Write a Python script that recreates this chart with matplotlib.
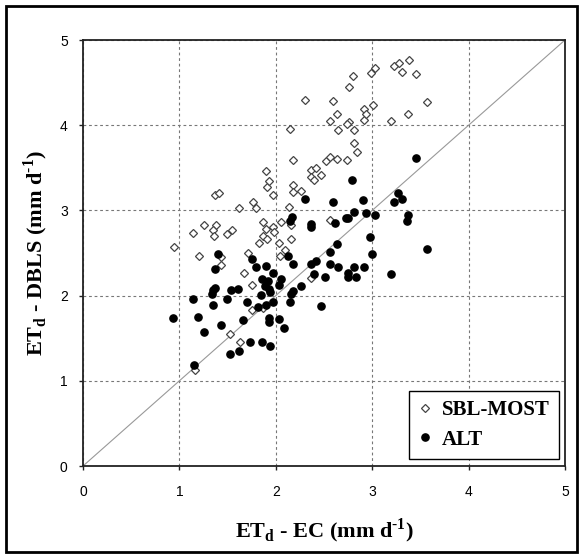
import matplotlib
matplotlib.use('Agg')
import matplotlib.pyplot as plt
from matplotlib.patches import Rectangle
import numpy as np

plt.rcParams['font.family'] = 'Liberation Sans'
plt.rcParams['mathtext.fontset'] = 'custom'
plt.rcParams['mathtext.rm'] = 'Liberation Serif:bold'
plt.rcParams['mathtext.bf'] = 'Liberation Serif:bold'

# SBL-MOST (open diamonds)
sbl_x = [0.94, 1.20, 1.14, 1.25, 1.37, 1.41, 1.38, 1.35, 1.36, 1.49, 1.55, 1.43, 1.43,
         1.62, 1.76, 1.79, 1.71, 1.67, 1.75, 1.75, 1.87, 1.53, 1.63, 1.16, 1.83, 1.87,
         1.87, 1.90, 1.91, 1.97, 1.98, 1.90, 1.91, 1.93, 1.97, 2.05, 2.03, 2.04, 2.10,
         2.14, 2.16, 2.16, 2.18, 2.18, 2.18, 2.15, 2.26, 2.30, 2.37, 2.36, 2.40, 2.42,
         2.47, 2.52, 2.56, 2.64, 2.56, 2.59, 2.63, 2.65, 2.74, 2.76, 2.74, 2.76, 2.80,
         2.81, 2.81, 2.84, 2.56, 2.36, 2.91, 2.92, 2.94, 2.99, 3.03, 3.01, 3.20, 3.23,
         3.28, 3.31, 3.38, 3.45, 3.37, 3.57]
sbl_y = [2.57, 2.46, 2.73, 2.83, 3.18, 3.21, 2.83, 2.77, 2.70, 2.72, 2.77, 2.45, 2.36,
         3.03, 3.10, 3.03, 2.50, 2.26, 2.13, 1.83, 1.86, 1.55, 1.45, 1.13, 2.62, 2.86,
         2.70, 2.78, 2.67, 2.81, 2.75, 3.46, 3.27, 3.34, 3.18, 2.86, 2.62, 2.46, 2.53,
         3.04, 2.83, 2.66, 3.30, 3.22, 3.59, 3.96, 3.23, 4.29, 3.48, 3.39, 3.36, 3.50,
         3.42, 3.58, 3.63, 3.60, 4.05, 4.28, 4.13, 3.94, 3.59, 4.04, 4.01, 4.45, 4.58,
         3.94, 3.79, 3.69, 2.89, 2.21, 4.06, 4.19, 4.13, 4.61, 4.67, 4.24, 4.05, 4.69,
         4.73, 4.62, 4.76, 4.60, 4.13, 4.27]

# ALT (filled circles)
alt_x = [0.93, 1.14, 1.19, 1.25, 1.15, 1.37, 1.40, 1.37, 1.35, 1.34, 1.35, 1.43, 1.49,
         1.54, 1.61, 1.53, 1.62, 1.66, 1.70, 1.73, 1.75, 1.79, 1.82, 1.86, 1.85, 1.86,
         1.90, 1.89, 1.90, 1.92, 1.93, 1.93, 1.93, 1.94, 1.97, 1.97, 1.94, 2.03, 2.05,
         2.03, 2.08, 2.13, 2.15, 2.17, 2.18, 2.16, 2.15, 2.18, 2.26, 2.30, 2.36, 2.36,
         2.37, 2.40, 2.42, 2.47, 2.51, 2.56, 2.56, 2.59, 2.61, 2.63, 2.65, 2.73, 2.75,
         2.75, 2.75, 2.79, 2.81, 2.81, 2.83, 2.90, 2.91, 2.94, 2.98, 3.00, 3.03, 3.19,
         3.23, 3.27, 3.31, 3.37, 3.36, 3.45, 3.57]
alt_y = [1.74, 1.96, 1.75, 1.57, 1.19, 2.31, 2.49, 2.09, 2.06, 2.02, 1.89, 1.65, 1.96,
         2.07, 2.08, 1.32, 1.35, 1.71, 1.93, 1.45, 2.43, 2.34, 1.87, 2.20, 2.01, 1.46,
         2.35, 2.11, 1.89, 2.17, 2.08, 1.69, 1.74, 1.41, 2.27, 1.92, 2.04, 2.13, 2.19,
         1.72, 1.62, 2.47, 2.88, 2.92, 2.37, 2.02, 1.92, 2.05, 2.11, 3.13, 2.84, 2.81,
         2.37, 2.25, 2.41, 1.88, 2.22, 2.51, 2.37, 3.10, 2.85, 2.61, 2.33, 2.91, 2.91,
         2.26, 2.22, 3.36, 2.98, 2.33, 2.22, 3.12, 2.33, 2.97, 2.69, 2.49, 2.95, 2.25,
         3.10, 3.20, 3.13, 2.95, 2.88, 3.61, 2.55]

ticks = [0, 1, 2, 3, 4, 5]

fig = plt.figure(figsize=(5.83, 5.58), dpi=100)
ax = fig.add_axes([83/583, 92/558, 482/583, 426/558])

ax.plot([0, 5], [0, 5], color='#999999', lw=0.8, zorder=1)
ax.plot(sbl_x, sbl_y, 'D', ms=4.0, mfc='white', mec='#444444', mew=0.9,
        label='SBL-MOST', zorder=3)
ax.plot(alt_x, alt_y, 'o', ms=5.2, mfc='black', mec='black', label='ALT', zorder=4)

ax.set_xlim(0, 5)
ax.set_ylim(0, 5)
ax.set_xticks(ticks)
ax.set_yticks(ticks)
ax.grid(True, color='#777777', lw=0.8, ls=(0, (2.5, 2.5)))
ax.set_axisbelow(True)
for s in ax.spines.values():
    s.set_color('#222222')
    s.set_linewidth(1.3)
ax.tick_params(direction='out', length=3, width=1, labelsize=10, color='#222222')
ax.tick_params(axis='x', pad=11)
ax.tick_params(axis='y', pad=8)

ax.set_xlabel('ET$_{\\mathrm{d}}$ - EC (mm d$^{\\mathrm{\u2010}1}$)', family='Liberation Serif',
              weight='bold', fontsize=16, labelpad=12)
ax.set_ylabel('ET$_{\\mathrm{d}}$ - DBLS (mm d$^{\\mathrm{\u2010}1}$)', family='Liberation Serif',
              weight='bold', fontsize=16, labelpad=7)

leg = ax.legend(loc='lower right', bbox_to_anchor=(0.9876, 0.0164), borderaxespad=0,
                fancybox=False, framealpha=1, edgecolor='black', handlelength=0.6,
                handletextpad=0.5, borderpad=0.45, labelspacing=0.45,
                prop={'family': 'Liberation Serif', 'weight': 'bold', 'size': 15})
leg.get_frame().set_linewidth(1.0)

fig.patches.append(Rectangle((6/583, 6/558), 571/583, 546/558, transform=fig.transFigure,
                             fill=False, ec='black', lw=2))

fig.savefig('out.png', dpi=100)
